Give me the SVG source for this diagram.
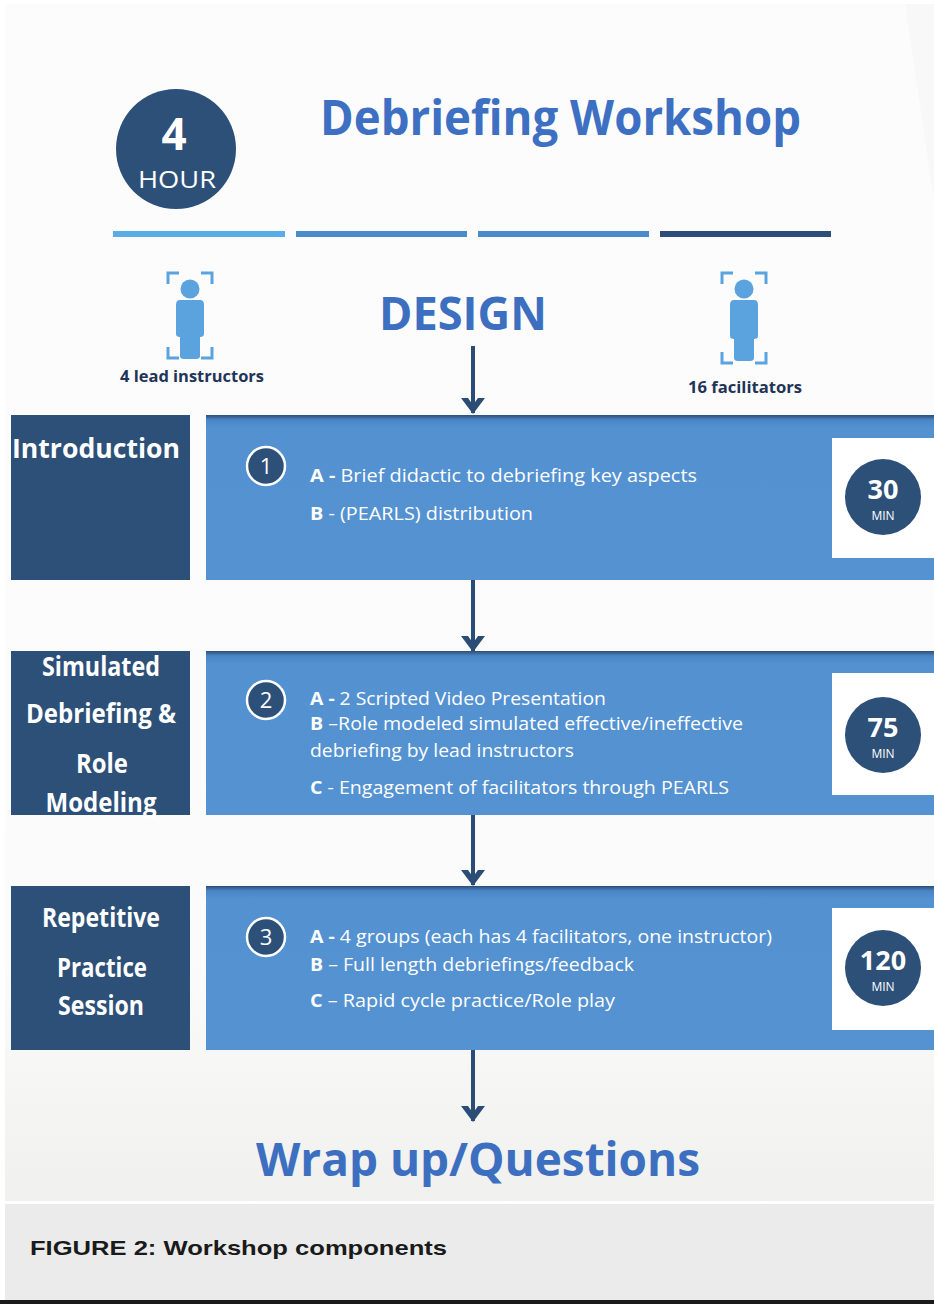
<svg xmlns="http://www.w3.org/2000/svg" width="934" height="1304" viewBox="0 0 934 1304">
<defs>
<style>
.t{font-family:"Open Sans","Liberation Sans",sans-serif;}
.sec{font-family:"Open Sans","Liberation Sans",sans-serif;font-weight:bold;fill:#ffffff;font-size:26px;text-anchor:middle;}
.item{font-family:"Open Sans","Liberation Sans",sans-serif;fill:#ffffff;font-size:18.5px;}
.item tspan.b{font-weight:bold;}
.num{font-family:"Open Sans","Liberation Sans",sans-serif;fill:#ffffff;font-weight:bold;font-size:27px;text-anchor:middle;}
.min{font-family:"Open Sans","Liberation Sans",sans-serif;fill:#ffffff;font-size:12px;text-anchor:middle;}
.step{font-family:"Open Sans","Liberation Sans",sans-serif;fill:#ffffff;font-size:22px;text-anchor:middle;}
.dark{fill:#2d5079;}
.blue{fill:url(#blueGrad);}
.conn{stroke:#2b4c75;stroke-width:4;fill:none;}
.icon{fill:#5aa3de;}
.brk{stroke:#5aa3de;stroke-width:3;fill:none;}
.lbl{font-family:"Open Sans","Liberation Sans",sans-serif;font-weight:bold;font-size:16px;fill:#1f3457;}
</style>
<linearGradient id="bg" x1="0" y1="0" x2="0" y2="1">
<stop offset="0" stop-color="#fcfcfc"/>
<stop offset="0.8" stop-color="#fbfbfb"/>
<stop offset="1" stop-color="#f0f0ee"/>
</linearGradient>
<linearGradient id="blueGrad" x1="0" y1="0" x2="0" y2="1">
<stop offset="0" stop-color="#2c4e76"/>
<stop offset="0.03" stop-color="#4a86c6"/>
<stop offset="0.08" stop-color="#5391d1"/>
<stop offset="1" stop-color="#5492d1"/>
</linearGradient>
<marker id="arr" viewBox="0 0 16 24" refX="15" refY="12" markerWidth="16" markerHeight="24" markerUnits="userSpaceOnUse" orient="auto">
<path d="M0,0 L16,12 L0,24 L0,17 L7,12 L0,7 Z" fill="#2b4c75"/>
<path d="M0,10 H10 V14 H0 Z" fill="#2b4c75"/>
</marker>
</defs>

<rect x="0" y="0" width="934" height="1304" fill="#ffffff"/>
<rect x="5" y="4" width="929" height="1197" fill="url(#bg)"/>
<path d="M905,4 L934,4 L934,200 Z" fill="#f8f8f8"/>

<g id="header">
<circle cx="176" cy="149" r="60" fill="#2d5079"/>
<text class="t" x="174" y="150" font-size="44" font-weight="bold" fill="#ffffff" text-anchor="middle">4</text>
<text class="t" x="177" y="188" font-size="23" fill="#ffffff" text-anchor="middle" textLength="78" lengthAdjust="spacingAndGlyphs">HOUR</text>
<text class="t" x="320" y="135" font-size="48" font-weight="bold" fill="#3d70c3" textLength="481" lengthAdjust="spacingAndGlyphs">Debriefing Workshop</text>
<rect x="113" y="231" width="172" height="6" fill="#58ade6"/>
<rect x="296" y="231" width="171" height="6" fill="#4a8bcb"/>
<rect x="478" y="231" width="171" height="6" fill="#4a8bcb"/>
<rect x="660" y="231" width="171" height="6" fill="#2e4e78"/>
</g>

<g id="design">
<text class="t" x="463" y="330" font-size="46" font-weight="bold" fill="#3d6fc1" text-anchor="middle" textLength="168" lengthAdjust="spacingAndGlyphs">DESIGN</text>
</g>

<g id="lead-instructors">
<path class="brk" d="M168,284 V273 H179 M201,273 H212 V284 M168,347 V358 H179 M201,358 H212 V347"/>
<circle class="icon" cx="190" cy="289" r="9.5"/>
<path class="icon" d="M180,300 Q176,300 176,305 V334 Q176,337 180,337 V356 Q180,359 184,359 H196 Q200,359 200,356 V337 Q204,337 204,334 V305 Q204,300 200,300 Z"/>
<text class="lbl" x="120" y="382" textLength="144" lengthAdjust="spacingAndGlyphs">4 lead instructors</text>
</g>

<g id="facilitators">
<path class="brk" d="M722,284 V273 H733 M755,273 H766 V284 M722,352 V363 H733 M755,363 H766 V352"/>
<circle class="icon" cx="744" cy="289" r="9.5"/>
<path class="icon" d="M734,300 Q730,300 730,305 V336 Q730,339 734,339 V358 Q734,361 738,361 H750 Q754,361 754,358 V339 Q758,339 758,336 V305 Q758,300 754,300 Z"/>
<text class="lbl" x="688" y="393" textLength="114" lengthAdjust="spacingAndGlyphs">16 facilitators</text>
</g>

<g id="connectors">
<line class="conn" x1="473" y1="346" x2="473" y2="413" marker-end="url(#arr)"/>
<line class="conn" x1="473" y1="580" x2="473" y2="651" marker-end="url(#arr)"/>
<line class="conn" x1="473" y1="815" x2="473" y2="885" marker-end="url(#arr)"/>
<line class="conn" x1="473" y1="1050" x2="473" y2="1121" marker-end="url(#arr)"/>
</g>

<g id="step1">
<rect class="dark" x="11" y="415" width="179" height="165"/>
<rect class="blue" x="206" y="415" width="728" height="165"/>
<text class="sec" x="96" y="458" textLength="168" lengthAdjust="spacingAndGlyphs">Introduction</text>
<circle cx="266" cy="466" r="19" fill="#2d5079" stroke="#ffffff" stroke-width="2.5"/>
<text class="step" x="266" y="474">1</text>
<text class="item" x="310" y="482" textLength="387" lengthAdjust="spacingAndGlyphs"><tspan class="b">A - </tspan>Brief didactic to debriefing key aspects</text>
<text class="item" x="310" y="520" textLength="223" lengthAdjust="spacingAndGlyphs"><tspan class="b">B</tspan> -  (PEARLS) distribution</text>
<rect x="832" y="438" width="102" height="120" fill="#ffffff"/>
<circle cx="883" cy="497" r="38" fill="#2d5079"/>
<text class="num" x="883" y="499">30</text>
<text class="min" x="883" y="520">MIN</text>
</g>

<g id="step2">
<rect class="dark" x="11" y="651" width="179" height="164"/>
<rect class="blue" x="206" y="651" width="728" height="164"/>
<text class="sec" x="101" y="676" textLength="118" lengthAdjust="spacingAndGlyphs">Simulated</text>
<text class="sec" x="101" y="723" textLength="150" lengthAdjust="spacingAndGlyphs">Debriefing &amp;</text>
<text class="sec" x="102" y="773" textLength="52" lengthAdjust="spacingAndGlyphs">Role</text>
<text class="sec" x="101" y="812" textLength="111" lengthAdjust="spacingAndGlyphs">Modeling</text>
<circle cx="266" cy="700" r="19" fill="#2d5079" stroke="#ffffff" stroke-width="2.5"/>
<text class="step" x="266" y="708">2</text>
<text class="item" x="310" y="705" textLength="296" lengthAdjust="spacingAndGlyphs"><tspan class="b">A - </tspan>2 Scripted Video Presentation</text>
<text class="item" x="310" y="730" textLength="433" lengthAdjust="spacingAndGlyphs"><tspan class="b">B</tspan> –Role modeled simulated effective/ineffective</text>
<text class="item" x="310" y="757" textLength="264" lengthAdjust="spacingAndGlyphs">debriefing by lead instructors</text>
<text class="item" x="310" y="794" textLength="419" lengthAdjust="spacingAndGlyphs"><tspan class="b">C</tspan> - Engagement of facilitators through  PEARLS</text>
<rect x="832" y="673" width="102" height="122" fill="#ffffff"/>
<circle cx="883" cy="735" r="38" fill="#2d5079"/>
<text class="num" x="883" y="737">75</text>
<text class="min" x="883" y="758">MIN</text>
</g>

<g id="step3">
<rect class="dark" x="11" y="886" width="179" height="164"/>
<rect class="blue" x="206" y="886" width="728" height="164"/>
<text class="sec" x="101" y="927" textLength="118" lengthAdjust="spacingAndGlyphs">Repetitive</text>
<text class="sec" x="102" y="977" textLength="90" lengthAdjust="spacingAndGlyphs">Practice</text>
<text class="sec" x="101" y="1015" textLength="86" lengthAdjust="spacingAndGlyphs">Session</text>
<circle cx="266" cy="937" r="19" fill="#2d5079" stroke="#ffffff" stroke-width="2.5"/>
<text class="step" x="266" y="945">3</text>
<text class="item" x="310" y="943" textLength="462" lengthAdjust="spacingAndGlyphs"><tspan class="b">A - </tspan>4 groups (each has 4 facilitators, one instructor)</text>
<text class="item" x="310" y="971" textLength="324" lengthAdjust="spacingAndGlyphs"><tspan class="b">B</tspan> – Full length debriefings/feedback</text>
<text class="item" x="310" y="1007" textLength="305" lengthAdjust="spacingAndGlyphs"><tspan class="b">C</tspan> – Rapid cycle practice/Role play</text>
<rect x="832" y="908" width="102" height="122" fill="#ffffff"/>
<circle cx="883" cy="968" r="38" fill="#2d5079"/>
<text class="num" x="883" y="970">120</text>
<text class="min" x="883" y="991">MIN</text>
</g>

<g id="wrapup">
<text class="t" x="478" y="1176" font-size="46" font-weight="bold" fill="#3d6fc1" text-anchor="middle" textLength="444" lengthAdjust="spacingAndGlyphs">Wrap up/Questions</text>
</g>

<g id="caption">
<rect x="5" y="1204" width="929" height="96" fill="#ebebeb"/>
<text x="30" y="1255" font-family="'Liberation Sans',Arial,sans-serif" font-weight="bold" font-size="21" fill="#1a1a1a" textLength="417" lengthAdjust="spacingAndGlyphs">FIGURE 2: Workshop components</text>
<rect x="0" y="1300" width="934" height="4" fill="#1a1a1a"/>
</g>
</svg>
